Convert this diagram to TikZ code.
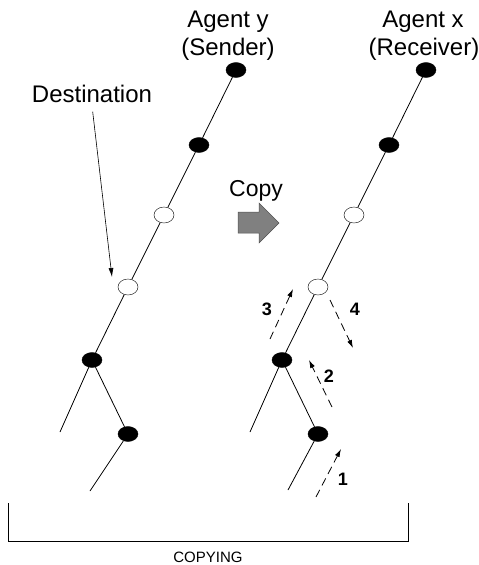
\documentclass[tikz,border=0pt]{standalone}
\usepackage{fontspec}
\setmainfont{Liberation Sans}
\usetikzlibrary{shapes.geometric, arrows.meta}

\begin{document}
\begin{tikzpicture}[
x=1pt, y=-1pt,
full/.style={ellipse, draw, fill=black, minimum width=20pt, minimum height=15pt, inner sep=0pt},
hollow/.style={ellipse, draw, fill=white, minimum width=20pt, minimum height=16pt, inner sep=0pt},
branch/.style={line width=0.8pt},
step arrow/.style={line width=0.8pt, dash pattern=on 8pt off 5pt, -{Latex[length=8pt,width=5pt]}},
lbl/.style={font=\fontsize{24}{28}\selectfont, anchor=base},
num/.style={font=\fontsize{18}{22}\selectfont\bfseries, anchor=base},
>={Latex[length=9pt,width=5pt]}
]
\useasboundingbox (0,0) rectangle (479,565);

% headings
\node[lbl] (ytitle) at (228,27) {Agent y};
\node[lbl] (yrole) at (228,55) {(Sender)};
\node[lbl] (xtitle) at (423,27) {Agent x};
\node[lbl] (xrole) at (424,55) {(Receiver)};

% sender tree
\node[full] (y1) at (236,70) {};
\node[full] (y2) at (199,145) {};
\node[hollow] (y3) at (164,215) {};
\node[hollow] (y4) at (128,287) {};
\node[full] (y5) at (92,360) {};
\node[full] (y6) at (128,434) {};
\coordinate (yleft) at (60,432);
\coordinate (ylow) at (90,491);

\draw[branch] (y1) -- (y2) -- (y3) -- (y4) -- (y5) -- (y6) -- (ylow);
\draw[branch] (y5) -- (yleft);

% receiver tree
\node[full] (x1) at (426,70) {};
\node[full] (x2) at (389,145) {};
\node[hollow] (x3) at (354,215) {};
\node[hollow] (x4) at (318,287) {};
\node[full] (x5) at (282,360) {};
\node[full] (x6) at (318,434) {};
\coordinate (xleft) at (250,432);
\coordinate (xlow) at (288,490);

\draw[branch] (x1) -- (x2) -- (x3) -- (x4) -- (x5) -- (x6) -- (xlow);
\draw[branch] (x5) -- (xleft);

% destination marker
\node[lbl] (dest) at (92,102) {Destination};
\coordinate (destend) at (112,277);
\draw[->, line width=0.6pt, shorten <=6pt] (dest.south) -- (destend);

% copy arrow
\node[font=\fontsize{23}{26}\selectfont, anchor=base] (copy) at (256,196) {Copy};
\filldraw[fill={rgb,255:red,128;green,128;blue,128}, draw={rgb,255:red,80;green,80;blue,80}, line width=0.5pt]
  (238,212) -- (259,212) -- (259,203) -- (279,223) -- (259,243) -- (259,233) -- (238,233) -- cycle;

% search steps
\coordinate (s1a) at (316,497); \coordinate (s1b) at (341,449);
\coordinate (s2a) at (332,407); \coordinate (s2b) at (309,360);
\coordinate (s3a) at (270,339); \coordinate (s3b) at (293,289);
\coordinate (s4a) at (330,300); \coordinate (s4b) at (353,348);
\draw[step arrow] (s1a) -- (s1b);
\draw[step arrow] (s2a) -- (s2b);
\draw[step arrow] (s3a) -- (s3b);
\draw[step arrow] (s4a) -- (s4b);
\node[num] (n1) at (343,485) {1};
\node[num] (n2) at (329,382) {2};
\node[num] (n3) at (267,315) {3};
\node[num] (n4) at (355,315) {4};

% bracket
\draw[line width=0.8pt] (8,503) -- (8,541) -- (408,541) -- (408,503);
\node[font=\fontsize{15}{18}\selectfont, anchor=base] (copying) at (208,562) {COPYING};

\end{tikzpicture}
\end{document}
